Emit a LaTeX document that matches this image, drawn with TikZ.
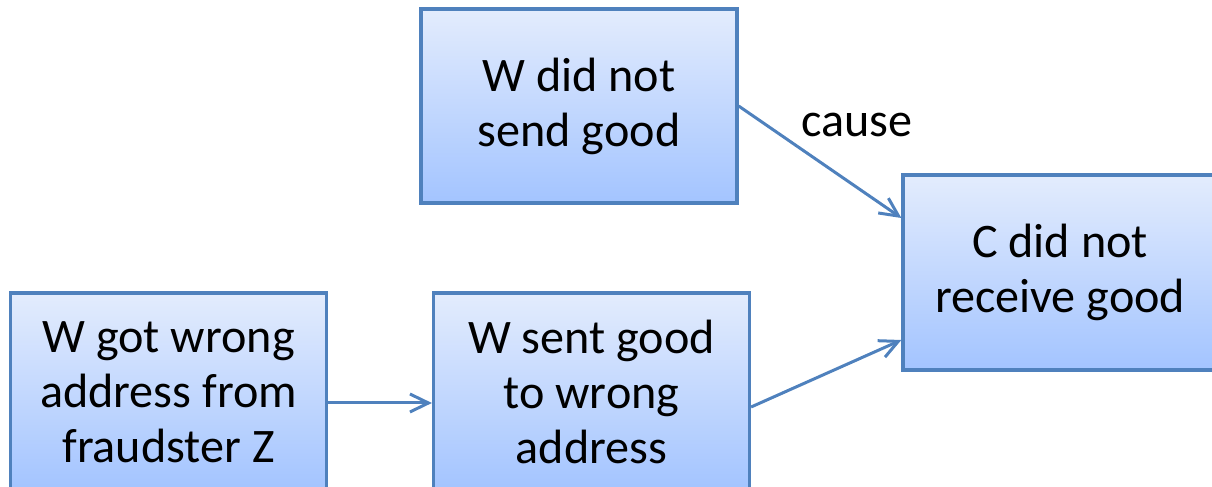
\documentclass[tikz,border=0pt]{standalone}
\usepackage{fontspec}
\setmainfont{Carlito}
\usepackage{xcolor}
\usetikzlibrary{arrows.meta,positioning,calc}

\definecolor{boxline}{RGB}{79,129,189}
\definecolor{boxtop}{RGB}{227,236,253}
\definecolor{boxbottom}{RGB}{163,196,255}

\tikzset{
  eventbox/.style={draw=boxline,line width=0.065cm,top color=boxtop,bottom color=boxbottom,
    minimum width=6.32cm,minimum height=3.88cm,inner sep=0pt,align=center,
    font=\fontsize{27.4}{31.3}\selectfont},
  causearrow/.style={draw=boxline,line width=0.06cm,-{Straight Barb[length=3.7mm,width=3.6mm]}}
}

\begin{document}
\begin{tikzpicture}
	\useasboundingbox (0,0) rectangle (24.24,9.74);
	\clip (0,0) rectangle (24.24,9.74);
		% events
		\node[eventbox] (notsent) at (11.58,7.62) {W did not\\send good};
		\node[eventbox,minimum width=6.28cm,minimum height=3.9cm] (notreceived) at (21.2,4.29) {C did not\\receive good};
		\node[eventbox,minimum height=3.96cm] (wrongaddr) at (3.37,1.90) {W got wrong\\address from\\fraudster Z};
		\node[eventbox,minimum height=3.96cm] (sentwrong) at (11.83,1.90) {W sent good\\to wrong\\address};
		% causal links
		\draw[causearrow] (notsent.east) -- ([yshift=1.09cm]notreceived.west);
		\draw[causearrow] ([yshift=-0.22cm]wrongaddr.east) -- ([yshift=-0.22cm]sentwrong.west);
		\draw[causearrow] ([yshift=-0.3cm]sentwrong.east) -- ([yshift=-1.35cm]notreceived.west);
		\node[font=\fontsize{27.4}{31.3}\selectfont] (causelabel) at (17.14,7.24) {cause};
	\end{tikzpicture}
\end{document}
